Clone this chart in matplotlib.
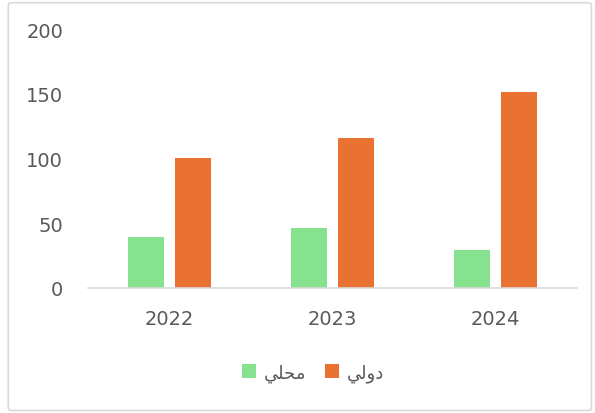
import numpy as np
import matplotlib.pyplot as plt
from matplotlib import patches

years = ["2022", "2023", "2024"]
local_vals = [39, 46, 29]
intl_vals = [100, 116, 151]
# Arabic labels in presentation forms, visual order (matplotlib does no shaping)
local_label = "\uFEF2\uFEE0\uFEA4\uFEE3"   # محلي
intl_label = "\uFEF2\uFEDF\uFEED\uFEA9"    # دولي

plt.rcParams['font.family'] = ['DejaVu Sans']

fig = plt.figure(figsize=(5.95, 4.14), dpi=100)
ax = fig.add_axes([0.148, 0.302, 0.822, 0.6255])

x = np.arange(len(years))
w = 0.22
ax.bar(x - 0.143, local_vals, w, color="#87E28F", label=local_label, zorder=2)
ax.bar(x + 0.143, intl_vals, w, color="#E97132", label=intl_label, zorder=2)

ax.set_xlim(-0.5, 2.5)
ax.set_ylim(0, 200)
ax.set_yticks([0, 50, 100, 150, 200])
ax.set_xticks(x)
ax.set_xticklabels(years)

for s in ["top", "right", "left"]:
    ax.spines[s].set_visible(False)
ax.spines["bottom"].set_color("#D9D9D9")
ax.spines["bottom"].set_linewidth(1.2)
ax.tick_params(axis="both", length=0, labelsize=14, colors="#595959")
ax.tick_params(axis="y", pad=18)
ax.tick_params(axis="x", pad=15)

fig.legend(loc="center", bbox_to_anchor=(0.526, 0.097), ncol=2, frameon=False,
           fontsize=13, handlelength=0.8, handleheight=0.8, handletextpad=0.45,
           columnspacing=1.0, labelcolor="#595959")

border = patches.FancyBboxPatch((0.014, 0.006), 0.98, 0.985, boxstyle="round,pad=0,rounding_size=0.006",
                                transform=fig.transFigure, fill=False, edgecolor="#D9D9D9", linewidth=1.2)
fig.patches.append(border)

fig.savefig("out.png", dpi=100)
